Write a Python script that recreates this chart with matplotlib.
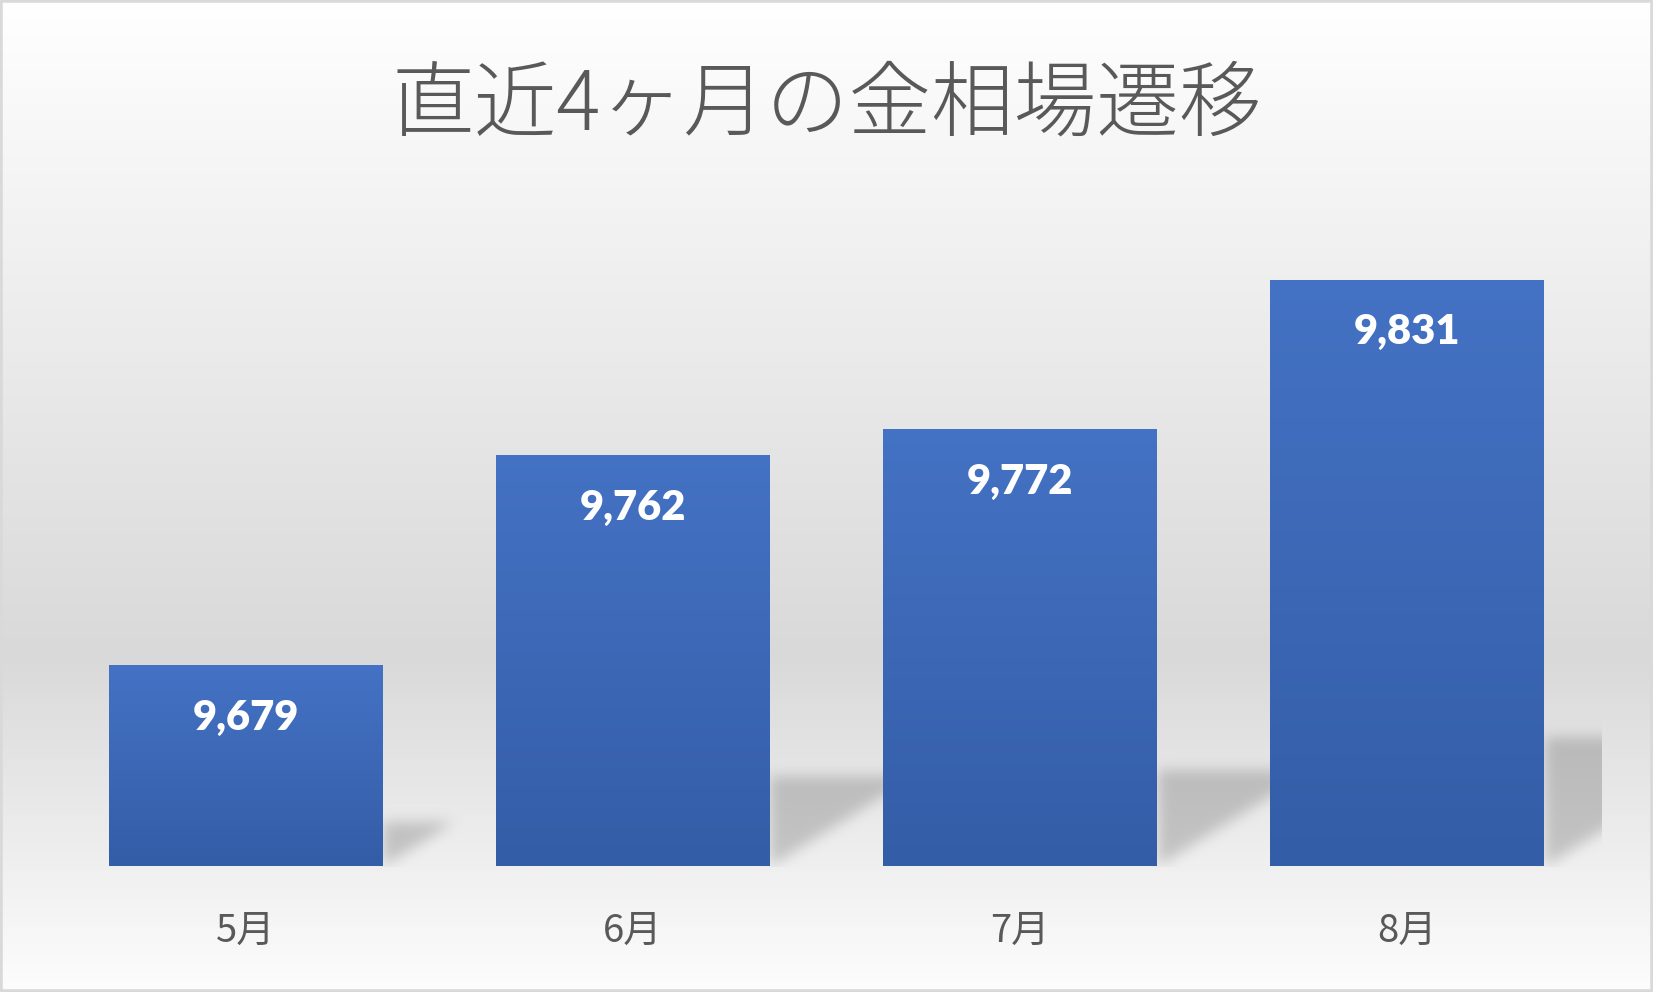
import numpy as np
import matplotlib.pyplot as plt
from matplotlib.colors import LinearSegmentedColormap
from matplotlib.patches import Rectangle

plt.rcParams['font.family'] = ['Noto Sans CJK JP', 'DejaVu Sans']

# データ
months = ['5月', '6月', '7月', '8月']
prices = [9679, 9762, 9772, 9831]
title = '直近4ヶ月の金相場遷移'

W, H = 1653, 992
fig = plt.figure(figsize=(W / 100, H / 100), dpi=100)

# 背景（縦グラデーション）
bg = fig.add_axes([0, 0, 1, 1])
bg.set_axis_off()
yy = np.linspace(0, 1, H)
col = np.interp(yy, [0, 0.66, 1], [255, 217, 253]) / 255
img = np.repeat(col[:, None], W, axis=1)

# メインの軸
ax = fig.add_axes([52 / W, 126 / H, 1549 / W, 634.6 / H])
x = np.arange(len(months))
bars = ax.bar(x, prices, width=0.707, color='#3d66b5', zorder=3)
ax.set_xlim(-0.5, len(months) - 0.5)
ax.set_ylim(9600, 9850)

# 影（床に落ちる影）
rows = np.arange(H)[:, None]
cols = np.arange(W)[None, :]
axl, axb = ax.transAxes.transform((0, 0))
axr, axt = ax.transAxes.transform((1, 1))
d = (H - rows) - axb
shadow = np.zeros((H, W))
for b in bars:
    x1, y1 = ax.transData.transform((b.get_x() + b.get_width(), b.get_height()))
    h = y1 - axb
    m = (d >= 0) & (d <= 0.22 * h) & (cols >= x1) & (cols <= x1 + 1.6 * d)
    shadow = np.maximum(shadow, m.astype(float))


def box_blur(a, r, axis):
    pad = [(0, 0), (0, 0)]
    pad[axis] = (r + 1, r)
    c = np.cumsum(np.pad(a, pad, mode='edge'), axis=axis)
    n = a.shape[axis]
    if axis == 0:
        return (c[2 * r + 1:2 * r + 1 + n] - c[:n]) / (2 * r + 1)
    return (c[:, 2 * r + 1:2 * r + 1 + n] - c[:, :n]) / (2 * r + 1)


for _ in range(3):
    shadow = box_blur(shadow, 6, 0)
    shadow = box_blur(shadow, 6, 1)
shadow *= (cols <= axr) & (d >= 0)
img = img * (1 - 0.18 * shadow)
bg.imshow(np.dstack([img] * 3), extent=[0, 1, 0, 1], aspect='auto', interpolation='bilinear')
bg.set_xlim(0, 1)
bg.set_ylim(0, 1)

# 棒のグラデーション
cmap = LinearSegmentedColormap.from_list('bar', ['#345da7', '#4472c4'])
grad = np.linspace(0, 1, 256)[:, None]
for b, v in zip(bars, prices):
    im = ax.imshow(grad, cmap=cmap, origin='lower', aspect='auto',
                   extent=[b.get_x(), b.get_x() + b.get_width(), 9600, v], zorder=4)
    im.set_clip_path(b)
    ax.annotate(f'{v:,}', (b.get_x() + b.get_width() / 2, v), xytext=(0, -38),
                textcoords='offset points', ha='center', va='center',
                fontsize=30, fontweight='heavy', color='white', family=['Lato', 'DejaVu Sans'], zorder=5)
ax.set_xlim(-0.5, len(months) - 0.5)
ax.set_ylim(9600, 9850)

ax.set_xticks(x)
ax.set_xticklabels(months)
ax.tick_params(axis='x', length=0, pad=33, labelsize=27.5, labelcolor='#595959')
ax.set_yticks([])
for s in ax.spines.values():
    s.set_visible(False)
ax.patch.set_visible(False)

fig.text(0.5, 1 - 107 / H, title, ha='center', va='center', fontsize=59.5,
         color='#595959', fontweight='light')

# 枠線
fig.patches.append(Rectangle((0, 0), 1, 1, transform=fig.transFigure, fill=False,
                             edgecolor='#d9d9d9', linewidth=4))

fig.savefig('out.png', dpi=100)
